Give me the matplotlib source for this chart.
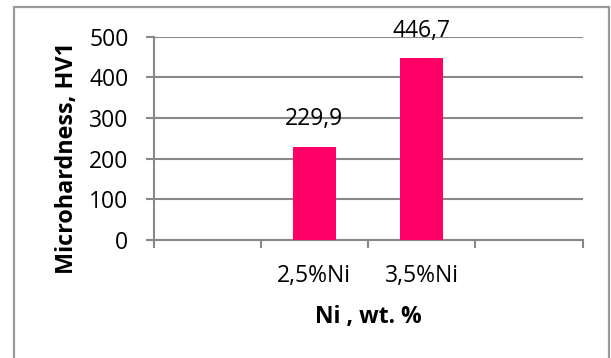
import matplotlib
matplotlib.use('Agg')
import matplotlib.pyplot as plt
from matplotlib.patches import Rectangle
import numpy as np

# microhardness by Ni content
categories = ['', '2,5%Ni', '3,5%Ni', '']
hardness = [np.nan, 229.9, 446.7, np.nan]
labels = ['', '229,9', '446,7', '']
y_ticks = [0, 100, 200, 300, 400, 500]

plt.rcParams['font.family'] = ['Open Sans', 'DejaVu Sans']

W, H = 611, 358
fig = plt.figure(figsize=(W / 100, H / 100), dpi=100)

# outer chart frame
fig.patches.append(Rectangle((14 / W, -0.1), (609 - 14) / W, 1.1 - 7.5 / H,
                             transform=fig.transFigure, fill=False,
                             edgecolor='#9a9a9a', linewidth=1.6))

ax = fig.add_axes([153.5 / W, (H - 240) / H, 429 / W, 203.3 / H])
x = np.arange(len(categories))
bars = ax.bar(x, hardness, width=0.4, color='#ff0066', zorder=3)

fs = 16.5
for xi, v, lab in zip(x, hardness, labels):
    if lab:
        ax.annotate(lab, (xi, v), xytext=(0, 20), textcoords='offset points',
                    ha='center', va='center', fontsize=fs, color='black')

ax.set_xlim(-0.5, len(categories) - 0.5)
ax.set_ylim(0, 500)
ax.set_yticks(y_ticks)
ax.set_xticks(np.arange(len(categories) + 1) - 0.5)
ax.set_xticklabels([])
ax.set_xticks(x, minor=True)
ax.set_xticklabels(categories, minor=True)

ax.tick_params(axis='x', which='major', direction='out', length=6, width=1.5, color='#888888')
ax.tick_params(axis='x', which='minor', length=0, pad=17, labelsize=fs)
ax.tick_params(axis='y', direction='out', length=6, width=1.5, color='#888888',
               pad=12, labelsize=fs)

ax.grid(axis='y', color='#888888', linewidth=1.5, zorder=0)
ax.set_axisbelow(True)
for side in ['top', 'right']:
    ax.spines[side].set_visible(False)
for side in ['left', 'bottom']:
    ax.spines[side].set_color('#888888')
    ax.spines[side].set_linewidth(1.5)

fig.text(368 / W, 1 - 317 / H, 'Ni , wt. %', ha='center', va='center',
         fontsize=16.5, fontweight='bold')
fig.text(67 / W, 1 - 158 / H, 'Microhardness, HV1', ha='center', va='center',
         rotation=90, fontsize=16.8, fontweight='bold')

fig.savefig('out.png', dpi=100)
